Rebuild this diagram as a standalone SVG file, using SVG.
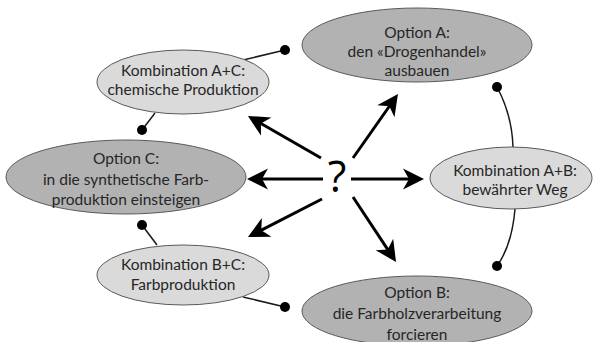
<svg xmlns="http://www.w3.org/2000/svg" width="595" height="342" viewBox="0 0 595 342">
<defs>
<style>
.light{fill:#dadada;stroke:#5a5a5a;stroke-width:1}
.dark{fill:#b2b2b2;stroke:#5a5a5a;stroke-width:1}
.t{font-family:Lato,"Open Sans","Liberation Sans",sans-serif;font-size:15.5px;fill:#262626;text-anchor:middle}
.arr{stroke:#000;stroke-width:3;fill:none;marker-end:url(#ah)}
.con{stroke:#1a1a1a;stroke-width:1.5;fill:none}
.dot{fill:#000}
</style>
<marker id="ah" markerUnits="userSpaceOnUse" viewBox="-8 -12 24 24" refX="0" refY="0" markerWidth="24" markerHeight="24" orient="auto">
<path d="M14,0 L-7,-10.5 L-1,0 L-7,10.5 Z" fill="#000"/>
</marker>
</defs>
<rect width="595" height="342" fill="#fff"/>
<g id="connectors">
<path class="con" d="M243,60 L285,50"/>
<circle class="dot" cx="285" cy="50" r="5"/>
<path class="con" d="M155,113 L142,130"/>
<circle class="dot" cx="142" cy="130" r="5"/>
<path class="con" d="M497,87 Q512,115 513,147"/>
<circle class="dot" cx="497" cy="87" r="5"/>
<path class="con" d="M515,209 Q512,245 497,266"/>
<circle class="dot" cx="497" cy="266" r="5"/>
<path class="con" d="M142,225 L157,245"/>
<circle class="dot" cx="142" cy="225" r="5"/>
<path class="con" d="M243,297 L285,307"/>
<circle class="dot" cx="285" cy="307" r="5"/>
<line class="arr" x1="321" y1="158" x2="260.1" y2="123"/>
<line class="arr" x1="353" y1="158" x2="389.9" y2="105.5"/>
<line class="arr" x1="323" y1="179" x2="261" y2="179"/>
<line class="arr" x1="351" y1="179" x2="410" y2="179"/>
<line class="arr" x1="322" y1="199" x2="260.4" y2="230.6"/>
<line class="arr" x1="353" y1="197" x2="388.3" y2="250.3"/>
</g>
<g id="question">
<text x="337" y="192" style="font-family:'Open Sans','Noto Sans',sans-serif;font-size:43px;fill:#000;text-anchor:middle">?</text>
</g>
<g id="kombiAC">
<ellipse class="light" cx="183" cy="82" rx="86" ry="32"/>
<text class="t" x="183" y="76">Kombination A+C:</text>
<text class="t" x="183" y="95">chemische Produktion</text>
</g>
<g id="optionA">
<ellipse class="dark" cx="417" cy="45" rx="115" ry="37"/>
<text class="t" x="417" y="38">Option A:</text>
<text class="t" x="417" y="57">den «Drogenhandel»</text>
<text class="t" x="417" y="76">ausbauen</text>
</g>
<g id="optionC">
<ellipse class="dark" cx="126" cy="177" rx="120" ry="37"/>
<text class="t" x="126" y="164">Option C:</text>
<text class="t" x="126" y="185">in die synthetische Farb-</text>
<text class="t" x="126" y="205">produktion einsteigen</text>
</g>
<g id="kombiAB">
<ellipse class="light" cx="511" cy="178" rx="81" ry="31"/>
<text class="t" x="515" y="176">Kombination A+B:</text>
<text class="t" x="515" y="195">bewährter Weg</text>
</g>
<g id="kombiBC">
<ellipse class="light" cx="183" cy="275" rx="86" ry="30"/>
<text class="t" x="183" y="270">Kombination B+C:</text>
<text class="t" x="183" y="290">Farbproduktion</text>
</g>
<g id="optionB">
<ellipse class="dark" cx="417" cy="311" rx="115" ry="35"/>
<text class="t" x="417" y="298">Option B:</text>
<text class="t" x="417" y="319">die Farbholzverarbeitung</text>
<text class="t" x="417" y="340">forcieren</text>
</g>
</svg>
